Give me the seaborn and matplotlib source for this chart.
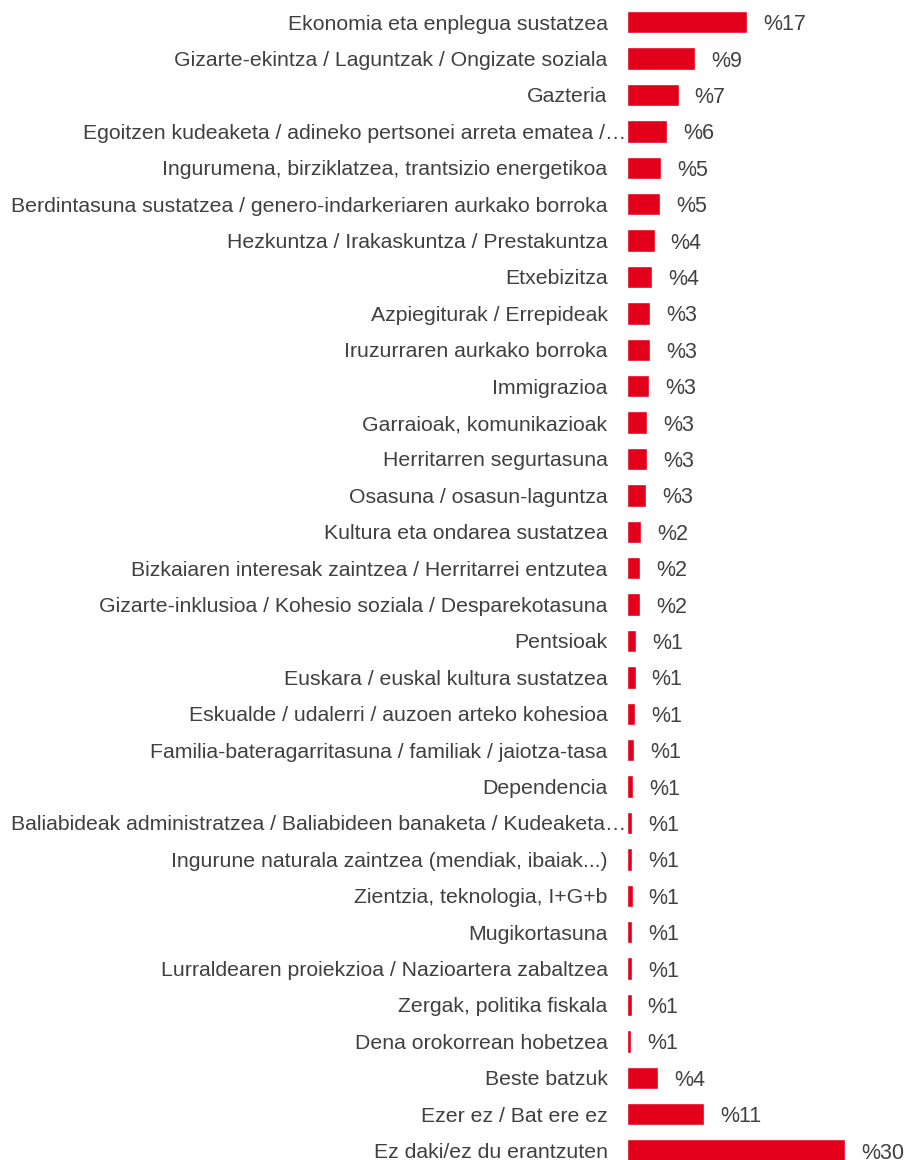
import matplotlib
matplotlib.use("Agg")
import matplotlib.pyplot as plt
import matplotlib.transforms as mtransforms
import pandas as pd
import seaborn as sns

# --------------------------------------
# Data
# --------------------------------------
categories = [
    "Ekonomia eta enplegua sustatzea",
    "Gizarte-ekintza / Laguntzak / Ongizate soziala",
    "Gazteria",
    "Egoitzen kudeaketa / adineko pertsonei arreta ematea /…",
    "Ingurumena, birziklatzea, trantsizio energetikoa",
    "Berdintasuna sustatzea / genero-indarkeriaren aurkako borroka",
    "Hezkuntza / Irakaskuntza / Prestakuntza",
    "Etxebizitza",
    "Azpiegiturak / Errepideak",
    "Iruzurraren aurkako borroka",
    "Immigrazioa",
    "Garraioak, komunikazioak",
    "Herritarren segurtasuna",
    "Osasuna / osasun-laguntza",
    "Kultura eta ondarea sustatzea",
    "Bizkaiaren interesak zaintzea / Herritarrei entzutea",
    "Gizarte-inklusioa / Kohesio soziala / Desparekotasuna",
    "Pentsioak",
    "Euskara / euskal kultura sustatzea",
    "Eskualde / udalerri / auzoen arteko kohesioa",
    "Familia-bateragarritasuna / familiak / jaiotza-tasa",
    "Dependencia",
    "Baliabideak administratzea / Baliabideen banaketa / Kudeaketa…",
    "Ingurune naturala zaintzea (mendiak, ibaiak...)",
    "Zientzia, teknologia, I+G+b",
    "Mugikortasuna",
    "Lurraldearen proiekzioa / Nazioartera zabaltzea",
    "Zergak, politika fiskala",
    "Dena orokorrean hobetzea",
    "Beste batzuk",
    "Ezer ez / Bat ere ez",
    "Ez daki/ez du erantzuten",
]
values = [16.5, 9.4, 7.1, 5.55, 4.7, 4.55, 3.8, 3.5, 3.2, 3.15, 3.05, 2.8,
          2.8, 2.6, 1.95, 1.85, 1.85, 1.3, 1.2, 1.1, 1.0, 0.85, 0.75, 0.7,
          0.78, 0.7, 0.7, 0.65, 0.6, 4.3, 10.6, 30.0]
shown = [17, 9, 7, 6, 5, 5, 4, 4, 3, 3, 3, 3, 3, 3, 2, 2, 2, 1, 1, 1, 1, 1,
         1, 1, 1, 1, 1, 1, 1, 4, 11, 30]
truncated = [3, 22]

RED = "#E3001B"
GREY = "#404040"

df = pd.DataFrame({"cat": categories, "val": values})

sns.set_style("white")
plt.rcParams["font.family"] = ["Liberation Sans", "DejaVu Sans"]

fig = plt.figure(figsize=(9.08, 11.6), dpi=100)
W, H = 908, 1160
left, right = 627, 908
top, step = 4, 36.4
ax = fig.add_axes([left / W, (H - top - step * 32) / H, (right - left) / W, step * 32 / H])

sns.barplot(data=df, y="cat", x="val", orient="h", color=RED, width=0.61,
            saturation=1, ax=ax)
ax.set_xlim(0, (right - left) / 7.26)
ax.set_ylim(31.5, -0.5)

txts = ax.bar_label(ax.containers[0], labels=["%" + str(s) for s in shown],
                    padding=11.5, fontsize=15.5, color=GREY)
for t in txts:
    t.set_va("center_baseline")

ax.set_xlabel("")
ax.set_ylabel("")
ax.set_xticks([])
ax.tick_params(axis="y", length=0, pad=14, labelsize=15.3, labelcolor=GREY)
for s in ax.spines.values():
    s.set_visible(False)

# the cut labels run into the bar area in the original
for i in truncated:
    lab = ax.get_yticklabels()[i]
    lab.set_transform(lab.get_transform() +
                      mtransforms.ScaledTranslation(0.19, 0, fig.dpi_scale_trans))

fig.savefig("out.png", dpi=100)
